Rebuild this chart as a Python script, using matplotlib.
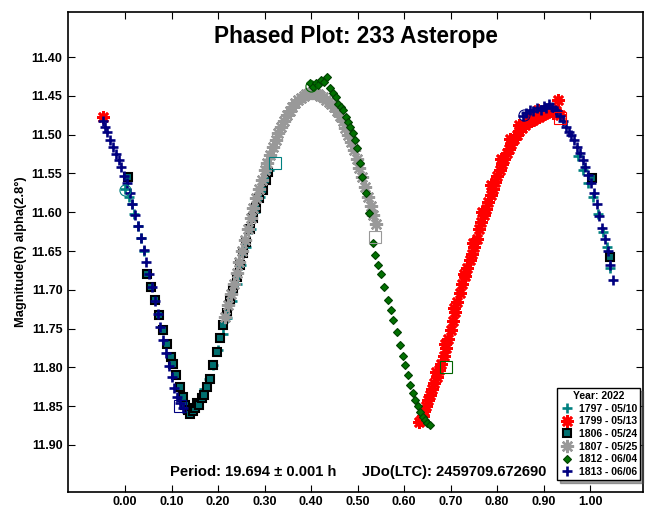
import matplotlib
matplotlib.use("Agg")
import matplotlib.pyplot as plt

plt.rcParams['font.family'] = ['Liberation Sans', 'DejaVu Sans']
plt.rcParams['font.weight'] = 'bold'

# 1813 - 06/06
s1813_phase = [-0.047, -0.043, -0.038, -0.032, -0.026, -0.020, -0.014, -0.008, -0.002, 0.004,
               0.010, 0.016, 0.022, 0.028, 0.034, 0.040, 0.046, 0.052, 0.058, 0.064,
               0.070, 0.076, 0.082, 0.088, 0.094, 0.100, 0.106, 0.112, 0.118, 0.124,
               0.855, 0.862, 0.870, 0.878, 0.886, 0.894, 0.900, 0.906, 0.912, 0.918,
               0.924, 0.930, 0.936, 0.942, 0.948, 0.954, 0.960, 0.966, 0.972, 0.978,
               0.984, 0.990, 0.996, 1.002, 1.008, 1.014, 1.020, 1.026, 1.032, 1.038,
               1.044, 1.050]
s1813_mag = [11.482, 11.490, 11.497, 11.507, 11.516, 11.525, 11.533, 11.542, 11.553, 11.562,
             11.575, 11.590, 11.604, 11.618, 11.633, 11.649, 11.664, 11.680, 11.697, 11.714,
             11.731, 11.748, 11.765, 11.782, 11.798, 11.812, 11.826, 11.838, 11.846, 11.852,
             11.476, 11.472, 11.468, 11.470, 11.466, 11.468, 11.463, 11.466, 11.460, 11.464,
             11.468, 11.470, 11.476, 11.482, 11.490, 11.497, 11.500, 11.507, 11.516, 11.524,
             11.533, 11.542, 11.552, 11.562, 11.575, 11.590, 11.605, 11.620, 11.634, 11.650,
             11.668, 11.688]

# 1797 - 05/10
s1797_phase = [0.000, 0.008, 0.015, 0.020, 0.027, 0.034, 0.041,
               0.170, 0.180, 0.190, 0.200, 0.210, 0.220, 0.230, 0.240, 0.250,
               0.260, 0.270, 0.280, 0.290, 0.300, 0.310,
               0.975, 0.985, 0.996, 1.006, 1.017, 1.028, 1.036, 1.043]
s1797_mag = [11.570, 11.580, 11.590, 11.602, 11.618, 11.633, 11.650,
             11.828, 11.815, 11.797, 11.778, 11.757, 11.736, 11.714, 11.692, 11.668,
             11.645, 11.622, 11.600, 11.580, 11.562, 11.545,
             11.528, 11.545, 11.562, 11.580, 11.602, 11.625, 11.645, 11.672]

# 1806 - 05/24
s1806_phase = [0.006, 0.048, 0.056, 0.065, 0.073, 0.082, 0.090, 0.098, 0.103, 0.110,
               0.118, 0.124, 0.130, 0.135, 0.140, 0.146, 0.150, 0.155, 0.160, 0.165,
               0.170, 0.176, 0.182, 0.190, 0.197, 0.204, 0.211, 0.219, 0.226, 0.232,
               0.240, 0.247, 0.254, 0.261, 0.268, 0.275, 0.282, 0.289, 0.296, 0.303,
               0.308, 1.004, 1.043]
s1806_mag = [11.555, 11.680, 11.697, 11.713, 11.733, 11.752, 11.770, 11.786, 11.795, 11.810,
             11.825, 11.838, 11.848, 11.855, 11.860, 11.856, 11.852, 11.846, 11.848, 11.840,
             11.836, 11.825, 11.815, 11.797, 11.780, 11.762, 11.745, 11.730, 11.713, 11.700,
             11.683, 11.668, 11.652, 11.638, 11.622, 11.608, 11.595, 11.582, 11.571, 11.558,
             11.548, 11.556, 11.658]

# 1807 - 05/25
s1807_phase = [0.215, 0.222, 0.228, 0.234, 0.240, 0.246, 0.252, 0.258, 0.264, 0.270,
               0.276, 0.282, 0.288, 0.294, 0.300, 0.306, 0.312, 0.318, 0.324, 0.330,
               0.336, 0.342, 0.348, 0.354, 0.360, 0.366, 0.372, 0.378, 0.384, 0.390,
               0.396, 0.402, 0.408, 0.414, 0.420, 0.426, 0.432, 0.438, 0.444, 0.450,
               0.456, 0.462, 0.468, 0.474, 0.480, 0.486, 0.492, 0.498, 0.504, 0.510,
               0.516, 0.522, 0.528, 0.534, 0.540]
s1807_mag = [11.735, 11.720, 11.706, 11.692, 11.678, 11.664, 11.650, 11.636, 11.622, 11.608,
             11.595, 11.582, 11.570, 11.558, 11.546, 11.536, 11.526, 11.516, 11.507, 11.498,
             11.490, 11.482, 11.475, 11.469, 11.464, 11.459, 11.456, 11.453, 11.450, 11.448,
             11.447, 11.446, 11.447, 11.448, 11.450, 11.452, 11.455, 11.458, 11.461, 11.465,
             11.470, 11.476, 11.483, 11.491, 11.500, 11.510, 11.520, 11.531, 11.543, 11.555,
             11.567, 11.580, 11.592, 11.604, 11.615]

# 1812 - 06/04
s1812_phase = [0.398, 0.404, 0.410, 0.416, 0.422, 0.428, 0.434, 0.440, 0.447, 0.453,
               0.459, 0.465, 0.469, 0.475, 0.480, 0.484, 0.490, 0.495, 0.499, 0.505,
               0.510, 0.518, 0.525, 0.533, 0.538, 0.544, 0.550, 0.558, 0.566, 0.571,
               0.576, 0.584, 0.591, 0.597, 0.602, 0.608, 0.613, 0.619, 0.624, 0.629,
               0.634, 0.640, 0.645, 0.650, 0.656]
s1812_mag = [11.434, 11.438, 11.433, 11.436, 11.430, 11.432, 11.426, 11.440, 11.447, 11.452,
             11.460, 11.465, 11.468, 11.477, 11.484, 11.490, 11.498, 11.507, 11.517, 11.537,
             11.555, 11.575, 11.601, 11.640, 11.655, 11.668, 11.680, 11.697, 11.713, 11.726,
             11.739, 11.755, 11.771, 11.785, 11.797, 11.810, 11.823, 11.833, 11.842, 11.850,
             11.858, 11.864, 11.868, 11.872, 11.874]

# 1799 - 05/13
s1799_phase = [-0.047, 0.632, 0.636, 0.640, 0.644, 0.648, 0.652, 0.656, 0.660, 0.665,
               0.670, 0.675, 0.680, 0.685, 0.690, 0.695, 0.700, 0.705, 0.710, 0.715,
               0.720, 0.725, 0.731, 0.736, 0.741, 0.746, 0.751, 0.756, 0.761, 0.766,
               0.771, 0.776, 0.781, 0.786, 0.791, 0.796, 0.801, 0.806, 0.811, 0.816,
               0.821, 0.826, 0.831, 0.836, 0.842, 0.848, 0.854, 0.860, 0.866, 0.872,
               0.878, 0.884, 0.890, 0.896, 0.902, 0.908, 0.914, 0.920, 0.926, 0.931,
               0.936,
               0.668, 0.688, 0.708, 0.728, 0.748, 0.768, 0.788, 0.808, 0.828, 0.848,
               0.868, 0.888]
s1799_mag = [11.477, 11.870, 11.868, 11.862, 11.856, 11.850, 11.842, 11.836, 11.828, 11.820,
             11.812, 11.803, 11.795, 11.785, 11.775, 11.764, 11.752, 11.740, 11.728, 11.716,
             11.704, 11.692, 11.682, 11.672, 11.662, 11.654, 11.645, 11.634, 11.622, 11.612,
             11.604, 11.596, 11.587, 11.578, 11.570, 11.561, 11.553, 11.546, 11.538, 11.531,
             11.524, 11.518, 11.512, 11.506, 11.500, 11.495, 11.491, 11.487, 11.484, 11.482,
             11.481, 11.479, 11.477, 11.475, 11.473, 11.471, 11.470, 11.472, 11.470, 11.455,
             11.475,
             11.806, 11.770, 11.724, 11.680, 11.640, 11.600, 11.565, 11.532, 11.506, 11.487,
             11.476, 11.468]

# open markers at the first (circle) and last (square) point of each session
first_phase = [0.000, 0.857, 0.400]
first_mag = [11.571, 11.475, 11.437]
first_color = ['#008080', '#000080', '#006400']
last_phase = [0.323, 0.935, 0.538, 0.690, 0.118]
last_mag = [11.537, 11.478, 11.632, 11.800, 11.850]
last_color = ['#008080', '#ff0000', '#999999', '#006400', '#000080']

fig = plt.figure(figsize=(6.46, 5.05), dpi=100)
ax = fig.add_axes([0.1053, 0.0257, 0.8901, 0.9505])

ax.plot(s1797_phase, s1797_mag, ls='none', marker='+', ms=7.5, mew=1.9,
        color='#008080', label='1797 - 05/10')
ax.plot(s1799_phase, s1799_mag, ls='none', marker=(8, 2, 0), ms=9, mew=1.9,
        color='#ff0000', label='1799 - 05/13')
ax.plot(s1806_phase, s1806_mag, ls='none', marker='s', ms=5.5, mew=1.5,
        mfc='#007070', mec='black', label='1806 - 05/24')
ax.plot(s1807_phase, s1807_mag, ls='none', marker=(8, 2, 0), ms=9.5, mew=1.7,
        color='#999999', label='1807 - 05/25')
ax.plot(s1812_phase, s1812_mag, ls='none', marker='D', ms=4.5, mew=0.8,
        mfc='#007000', mec='#004000', label='1812 - 06/04')
ax.plot(s1813_phase, s1813_mag, ls='none', marker='+', ms=7.5, mew=1.9,
        color='#000080', label='1813 - 06/06')

for p, m, c in zip(first_phase, first_mag, first_color):
    ax.plot(p, m, ls='none', marker='o', ms=8, mfc='none', mec=c, mew=0.8)
for p, m, c in zip(last_phase, last_mag, last_color):
    ax.plot(p, m, ls='none', marker='s', ms=8, mfc='none', mec=c, mew=0.8)

ax.set_xlim(-0.1226, 1.114)
ax.set_ylim(11.9606, 11.342)
ax.set_xticks([0.0, 0.1, 0.2, 0.3, 0.4, 0.5, 0.6, 0.7, 0.8, 0.9, 1.0])
ax.set_yticks([11.40, 11.45, 11.50, 11.55, 11.60, 11.65, 11.70, 11.75, 11.80, 11.85, 11.90])
ax.xaxis.set_major_formatter('{x:.2f}')
ax.yaxis.set_major_formatter('{x:.2f}')
ax.tick_params(direction='in', length=5, width=0.8, top=True, right=True,
               labelsize=9, pad=4)
ax.tick_params(axis='x', pad=3)
for s in ax.spines.values():
    s.set_linewidth(1.2)

ax.set_ylabel('Magnitude(R) alpha(2.8°)', fontsize=9.3, fontweight='bold', labelpad=3)

ax.text(0.501, 0.948, 'Phased Plot: 233 Asterope', transform=ax.transAxes,
        ha='center', va='center', fontsize=16.3, fontweight='heavy')
ax.text(0.322, 0.042, 'Period: 19.694 ± 0.001 h', transform=ax.transAxes,
        ha='center', va='center', fontsize=10.6, fontweight='bold')
ax.text(0.671, 0.042, 'JDo(LTC): 2459709.672690', transform=ax.transAxes,
        ha='center', va='center', fontsize=10.6, fontweight='bold')

leg = ax.legend(loc='lower right', bbox_to_anchor=(0.995, 0.025), borderaxespad=0,
                title='Year: 2022', fontsize=7.5, title_fontsize=7.5,
                handlelength=1.4, handletextpad=0.4, labelspacing=0.25,
                borderpad=0.3, fancybox=False, shadow=True, framealpha=1,
                edgecolor='black')
leg.get_title().set_fontweight('bold')
leg.get_frame().set_linewidth(1.0)

fig.savefig('out.png', dpi=100)
